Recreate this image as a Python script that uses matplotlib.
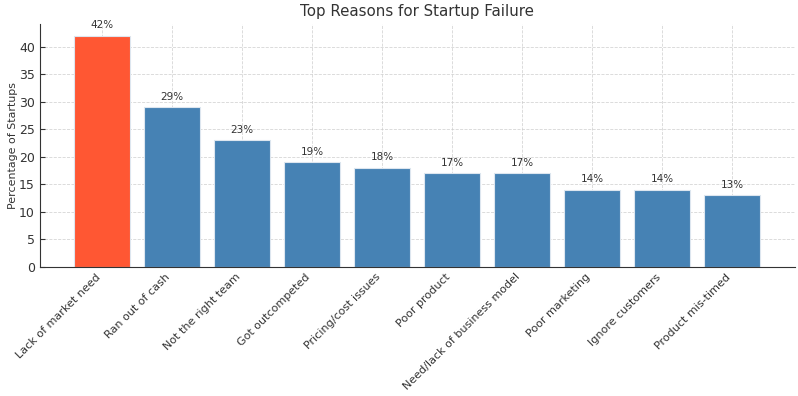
import matplotlib
matplotlib.use("Agg")
import matplotlib.pyplot as plt

reasons = ["Lack of market need", "Ran out of cash", "Not the right team", "Got outcompeted",
           "Pricing/cost issues", "Poor product", "Need/lack of business model",
           "Poor marketing", "Ignore customers", "Product mis-timed"]
percentages = [42, 29, 23, 19, 18, 17, 17, 14, 14, 13]
colors = ["#FF5733"] + ["#4682B4"] * 9

plt.rcParams['text.color'] = '#333333'
plt.rcParams['axes.labelcolor'] = '#333333'
plt.rcParams['xtick.color'] = '#333333'
plt.rcParams['ytick.color'] = '#333333'

fig, ax = plt.subplots(figsize=(7.98, 3.96), dpi=100)
fig.subplots_adjust(left=0.05, right=0.996, top=0.939, bottom=0.326)

bars = ax.bar(range(len(reasons)), percentages, color=colors, edgecolor='#dde6ef', linewidth=0.8, zorder=2)
for i, v in enumerate(percentages):
    ax.text(i, v + 1, f"{v}%", ha='center', va='bottom', fontsize=7.5, color='#333333')

ax.set_xticks(range(len(reasons)))
ax.set_xticklabels(reasons, rotation=45, ha='right', fontsize=8)
ax.tick_params(axis='both', direction='in')
ax.tick_params(axis='y', labelsize=9)
ax.set_title("Top Reasons for Startup Failure", fontsize=10.8, color='#333333')
ax.set_ylabel("Percentage of Startups", fontsize=7.9, labelpad=1)
ax.grid(True, linestyle='--', color='#cccccc', linewidth=0.6, alpha=0.8, zorder=0)
ax.set_axisbelow(True)
ax.spines['top'].set_visible(False)
ax.spines['right'].set_visible(False)
ax.spines['left'].set_color('#333333')
ax.spines['bottom'].set_color('#333333')

fig.savefig("out.png", dpi=100)
